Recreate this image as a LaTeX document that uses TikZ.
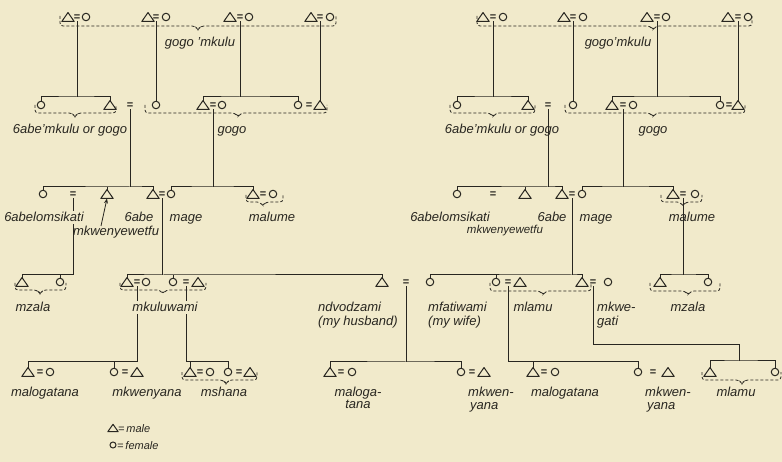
\documentclass[tikz,border=0pt]{standalone}
\usepackage{fontspec}
\setmainfont{Liberation Sans}
\usetikzlibrary{arrows.meta}
\definecolor{paper}{RGB}{241,234,203}
\definecolor{ink}{RGB}{40,38,32}
\tikzset{
  ln/.style={draw=ink, line width=1pt},
  female/.style={circle, draw=ink, line width=1pt, minimum size=7.5pt, inner sep=0pt},
  femalesm/.style={female, minimum size=6pt},
  male/.style={rectangle, minimum width=12pt, minimum height=8.5pt, inner sep=0pt},
  malesm/.style={male, minimum width=10pt, minimum height=7pt},
  tri/.style={draw=ink, line width=1pt, line join=round},
  eqs/.style={inner sep=0pt, text=ink, font=\fontsize{11}{11}\selectfont\bfseries},
  brc/.style={draw=ink, line width=0.8pt, dash pattern=on 3pt off 2pt, rounded corners=3pt},
  lbl/.style={text=ink, inner sep=0pt, anchor=base, font=\fontsize{13}{14}\selectfont\itshape},
  lblw/.style={lbl, anchor=base west},
  lblsm/.style={lbl, font=\fontsize{11.5}{12}\selectfont\itshape},
  lgd/.style={lblw, font=\fontsize{11}{12}\selectfont\itshape},
  mask/.style={fill=paper, inner sep=1.5pt},
}
\newcommand\dbrace[5]{\draw[brc] (#1,#4) -- (#1,#5) -- ({#3-3},#5) -- (#3,{#5+4}) -- ({#3+3},#5) -- (#2,#5) -- (#2,#4);}
\begin{document}
\begin{tikzpicture}[x=1pt,y=-1pt]
\fill[paper] (0,0) rectangle (782,462);
\useasboundingbox (0,0) rectangle (782,462);

% ================= LEFT DIAGRAM =================
% row 1
\node[male] (L1m1) at (68,17) {};
\node[eqs] (Le1a) at (77,18) {=};
\node[female] (L1f1) at (86,17) {};
\node[male] (L1m2) at (148,17) {};
\node[eqs] (Le1b) at (156,18) {=};
\node[female] (L1f2) at (166,17) {};
\node[male] (L1m3) at (230,17) {};
\node[eqs] (Le1c) at (240,18) {=};
\node[female] (L1f3) at (249,17) {};
\node[male] (L1m4) at (311,17) {};
\node[eqs] (Le1d) at (320,18) {=};
\node[female] (L1f4) at (330,17) {};
% row 2
\node[female] (L2f1) at (41,105) {};
\node[male] (L2m1) at (110,105) {};
\node[eqs] (Le2a) at (130,106) {=};
\node[female] (L2f2) at (156,105) {};
\node[male] (L2m3) at (203,105) {};
\node[eqs] (Le2b) at (213,106) {=};
\node[female] (L2f3) at (222,105) {};
\node[female] (L2f4) at (298,105) {};
\node[eqs] (Le2c) at (309,106) {=};
\node[male] (L2m4) at (320,105) {};
% row 3
\node[female] (L3f1) at (43,194) {};
\node[eqs] (Le3a) at (73,195) {=};
\node[male] (L3m1) at (107,194) {};
\node[male] (L3m2) at (153,194) {};
\node[eqs] (Le3b) at (162,195) {=};
\node[female] (L3f2) at (171,194) {};
\node[male] (L3m3) at (253,194) {};
\node[eqs] (Le3c) at (263,195) {=};
\node[female] (L3f3) at (273,194) {};
% row 4
\node[male] (L4m1) at (22,282) {};
\node[female] (L4f1) at (60,282) {};
\node[male] (L4m2) at (127,282) {};
\node[eqs] (Le4a) at (137,283) {=};
\node[female] (L4f2) at (146,282) {};
\node[female] (L4f3) at (173,282) {};
\node[eqs] (Le4b) at (186,283) {=};
\node[male] (L4m3) at (198,282) {};
\node[male] (L4m4) at (382,282) {};
\node[eqs] (Le4c) at (406,283) {=};
% row 5
\node[male] (L5m1) at (28,372) {};
\node[eqs] (Le5a) at (40,373) {=};
\node[female] (L5f1) at (50,372) {};
\node[female] (L5f2) at (114,372) {};
\node[eqs] (Le5b) at (125,373) {=};
\node[male] (L5m2) at (137,372) {};
\node[male] (L5m3) at (190,372) {};
\node[eqs] (Le5c) at (200,373) {=};
\node[female] (L5f3) at (210,372) {};
\node[female] (L5f4) at (228,372) {};
\node[eqs] (Le5d) at (239,373) {=};
\node[male] (L5m4) at (250,372) {};
\node[male] (L5m5) at (330,372) {};
\node[eqs] (Le5e) at (341,373) {=};
\node[female] (L5f5) at (352,372) {};
\node[female] (L5f6) at (461,372) {};
\node[eqs] (Le5f) at (472,373) {=};
\node[male] (L5m6) at (484,372) {};
% legend
\node[malesm] (Lgm) at (113,428) {};
\node[femalesm] (Lgf) at (113,445) {};

% ================= RIGHT DIAGRAM =================
\node[male] (R1m1) at (483,17) {};
\node[eqs] (Re1a) at (493,18) {=};
\node[female] (R1f1) at (503,17) {};
\node[male] (R1m2) at (564,17) {};
\node[eqs] (Re1b) at (573,18) {=};
\node[female] (R1f2) at (583,17) {};
\node[male] (R1m3) at (647,17) {};
\node[eqs] (Re1c) at (657,18) {=};
\node[female] (R1f3) at (666,17) {};
\node[male] (R1m4) at (728,17) {};
\node[eqs] (Re1d) at (738,18) {=};
\node[female] (R1f4) at (748,17) {};
% row 2
\node[female] (R2f1) at (457,105) {};
\node[male] (R2m1) at (528,105) {};
\node[eqs] (Re2a) at (548,106) {=};
\node[female] (R2f2) at (573,105) {};
\node[male] (R2m3) at (612,105) {};
\node[eqs] (Re2b) at (623,106) {=};
\node[female] (R2f3) at (633,105) {};
\node[female] (R2f4) at (720,105) {};
\node[eqs] (Re2c) at (729,106) {=};
\node[male] (R2m4) at (738,105) {};
% row 3
\node[female] (R3f1) at (457,194) {};
\node[eqs] (Re3a) at (493,195) {=};
\node[male] (R3m1) at (525,194) {};
\node[male] (R3m2) at (562,194) {};
\node[eqs] (Re3b) at (572,195) {=};
\node[female] (R3f2) at (582,194) {};
\node[male] (R3m3) at (673,194) {};
\node[eqs] (Re3c) at (683,195) {=};
\node[female] (R3f3) at (695,194) {};
% row 4
\node[female] (R4f1) at (430,282) {};
\node[female] (R4f2) at (496,282) {};
\node[eqs] (Re4a) at (508,283) {=};
\node[male] (R4m2) at (520,282) {};
\node[male] (R4m3) at (582,282) {};
\node[eqs] (Re4b) at (593,283) {=};
\node[female] (R4f3) at (608,282) {};
\node[male] (R4m4) at (660,282) {};
\node[female] (R4f4) at (708,282) {};
% row 5
\node[male] (R5m1) at (533,372) {};
\node[eqs] (Re5a) at (544,373) {=};
\node[female] (R5f1) at (555,372) {};
\node[female] (R5f2) at (638,372) {};
\node[eqs] (Re5b) at (653,373) {=};
\node[male] (R5m2) at (668,372) {};
\node[male] (R5m3) at (710,372) {};
\node[female] (R5f3) at (775,372) {};

% triangles for males
\foreach \n in {L1m1,L1m2,L1m3,L1m4,L2m1,L2m3,L2m4,L3m1,L3m2,L3m3,L4m1,L4m2,L4m3,L4m4,L5m1,L5m2,L5m3,L5m4,L5m5,L5m6,Lgm,R1m1,R1m2,R1m3,R1m4,R2m1,R2m3,R2m4,R3m1,R3m2,R3m3,R4m2,R4m3,R4m4,R5m1,R5m2,R5m3}
  \draw[tri] (\n.south west) -- (\n.north) -- (\n.south east) -- cycle;

% ---------- junction coordinates ----------
\coordinate (Lj2a) at (77,97);
\coordinate (Lj2b) at (240,97);
\coordinate (Lj3a) at (130,187);
\coordinate (Lj3b) at (213,187);
\coordinate (Lj4a) at (73,275);
\coordinate (Lj4b) at (162,275);
\coordinate (Lj5a) at (137,362);
\coordinate (Lj5b) at (186,362);
\coordinate (Lj5c) at (406,362);
\coordinate (Larr) at (101,226);
\coordinate (Rj2a) at (493,97);
\coordinate (Rj2b) at (657,97);
\coordinate (Rj3a) at (548,187);
\coordinate (Rj3b) at (623,187);
\coordinate (Rj4a) at (572,275);
\coordinate (Rj4b) at (683,275);
\coordinate (Rj5a) at (508,362);
\coordinate (Rk1) at (593,345);
\coordinate (Rj5b) at (739,361);

% ---------- connectors, left ----------
\draw[ln] (Le1a.south) -- (Lj2a);
\draw[ln] (L2f1.north) |- (Lj2a) -| (L2m1.north);
\draw[ln] (Le1b.south) -- (L2f2.north);
\draw[ln] (Le1c.south) -- (Lj2b);
\draw[ln] (L2m3.north) |- (Lj2b) -| (L2f4.north);
\draw[ln] (Le1d.south) -- (L2m4.north);
\draw[ln] (Le2a.south) -- (Lj3a);
\draw[ln] (L3f1.north) |- (Lj3a) -| (L3m2.north);
\draw[ln] (L3m1.north) -- (L3m1.north |- Lj3a);
\draw[ln] (Le2b.south) -- (Lj3b);
\draw[ln] (L3f2.north) |- (Lj3b) -| (L3m3.north);
\draw[ln] (Le3a.south) -- (Lj4a) -| (L4m1.north);
\draw[ln] (L4f1.north) -- (L4f1.north |- Lj4a);
\draw[ln] (Le3b.south) -- (Lj4b);
\draw[ln] (L4m2.north) |- (Lj4b) -| (L4m4.north);
\draw[ln] (L4f3.north) -- (L4f3.north |- Lj4b);
\draw[ln] (Le4a.south) -- (Lj5a) -| (L5m1.north);
\draw[ln] (L5f2.north) -- (L5f2.north |- Lj5a);
\draw[ln] (Le4b.south) -- (Lj5b) -| (L5f4.north);
\draw[ln] (L5m3.north) -- (L5m3.north |- Lj5b);
\draw[ln] (Le4c.south) -- (Lj5c);
\draw[ln] (L5m5.north) |- (Lj5c) -| (L5f6.north);
\draw[ln, line width=0.8pt, -{Stealth[length=5pt,width=4pt]}] (Larr) -- (L3m1.south);

% ---------- connectors, right ----------
\draw[ln] (Re1a.south) -- (Rj2a);
\draw[ln] (R2f1.north) |- (Rj2a) -| (R2m1.north);
\draw[ln] (Re1b.south) -- (R2f2.north);
\draw[ln] (Re1c.south) -- (Rj2b);
\draw[ln] (R2m3.north) |- (Rj2b) -| (R2f4.north);
\draw[ln] (Re1d.south) -- (R2m4.north);
\draw[ln] (Re2a.south) -- (Rj3a);
\draw[ln] (R3f1.north) |- (Rj3a) -| (R3m2.north);
\draw[ln] (R3m1.north) -- (R3m1.north |- Rj3a);
\draw[ln] (Re2b.south) -- (Rj3b);
\draw[ln] (R3f2.north) |- (Rj3b) -| (R3m3.north);
\draw[ln] (Re3b.south) -- (Rj4a);
\draw[ln] (R4f1.north) |- (Rj4a) -| (R4m3.north);
\draw[ln] (R4f2.north) -- (R4f2.north |- Rj4a);
\draw[ln] (Re3c.south) -- (Rj4b);
\draw[ln] (R4m4.north) |- (Rj4b) -| (R4f4.north);
\draw[ln] (Re4a.south) -- (Rj5a) -| (R5f2.north);
\draw[ln] (R5m1.north) -- (R5m1.north |- Rj5a);
\draw[ln] (Re4b.south) -- (Rk1) -| (Rj5b);
\draw[ln] (R5m3.north) |- (Rj5b) -| (R5f3.north);

% ---------- dashed braces ----------
\dbrace{60}{336}{198}{16}{26}
\dbrace{35}{116}{75}{105}{113}
\dbrace{145}{327}{238}{105}{113}
\dbrace{246}{283}{263}{195}{202}
\dbrace{15}{66}{40}{283}{290}
\dbrace{120}{206}{163}{283}{290}
\dbrace{182}{257}{226}{372}{380}
\dbrace{477}{752}{653}{16}{26}
\dbrace{450}{535}{493}{105}{113}
\dbrace{565}{745}{653}{105}{113}
\dbrace{661}{702}{683}{195}{202}
\dbrace{490}{591}{543}{283}{291}
\dbrace{650}{720}{688}{283}{291}
\dbrace{702}{781}{742}{372}{380}

% ---------- labels, left ----------
\node[lbl] (tL1) at (200,47) {gogo 'mkulu};
\node[lbl] (tL2) at (70,134) {6abe'mkulu or gogo};
\node[lbl] (tL3) at (232,134) {gogo};
\node[lbl, mask] (tL4) at (44,222) {6abelomsikati};
\node[lbl] (tL5) at (139,222) {6abe};
\node[lbl] (tL6) at (116,236) {mkwenyewetfu};
\node[lbl] (tL7) at (186,222) {mage};
\node[lbl] (tL8) at (272,222) {malume};
\node[lbl] (tL9) at (33,312) {mzala};
\node[lbl, mask] (tL10) at (165,312) {mkuluwami};
\node[lblw] (tL11) at (318,312) {ndvodzami};
\node[lblw] (tL12) at (318,326) {(my husband)};
\node[lbl] (tL13) at (45,396) {malogatana};
\node[lbl] (tL14) at (147,396) {mkwenyana};
\node[lbl] (tL15) at (224,396) {mshana};
\node[lbl] (tL16) at (358,396) {maloga-};
\node[lbl] (tL17) at (358,408) {tana};
\node[lblw] (tL18) at (468,396) {mkwen-};
\node[lblw] (tL19) at (470,409) {yana};
\node[lgd] (tLg1) at (118,432) {=\,male};
\node[lgd] (tLg2) at (117,449) {=\,female};

% ---------- labels, right ----------
\node[lbl] (tR1) at (618,47) {gogo'mkulu};
\node[lbl] (tR2) at (502,134) {6abe'mkulu or gogo};
\node[lbl] (tR3) at (653,134) {gogo};
\node[lbl] (tR4) at (450,222) {6abelomsikati};
\node[lbl] (tR5) at (552,222) {6abe};
\node[lblsm] (tR6) at (505,234) {mkwenyewetfu};
\node[lbl] (tR7) at (596,222) {mage};
\node[lbl] (tR8) at (692,222) {malume};
\node[lblw] (tR9) at (428,312) {mfatiwami};
\node[lblw] (tR10) at (428,326) {(my wife)};
\node[lbl] (tR11) at (533,312) {mlamu};
\node[lblw] (tR12) at (597,312) {mkwe-};
\node[lblw] (tR13) at (597,326) {gati};
\node[lbl] (tR14) at (688,312) {mzala};
\node[lbl] (tR15) at (565,396) {malogatana};
\node[lblw] (tR16) at (645,396) {mkwen-};
\node[lblw] (tR17) at (647,409) {yana};
\node[lbl] (tR18) at (736,396) {mlamu};
\end{tikzpicture}
\end{document}
